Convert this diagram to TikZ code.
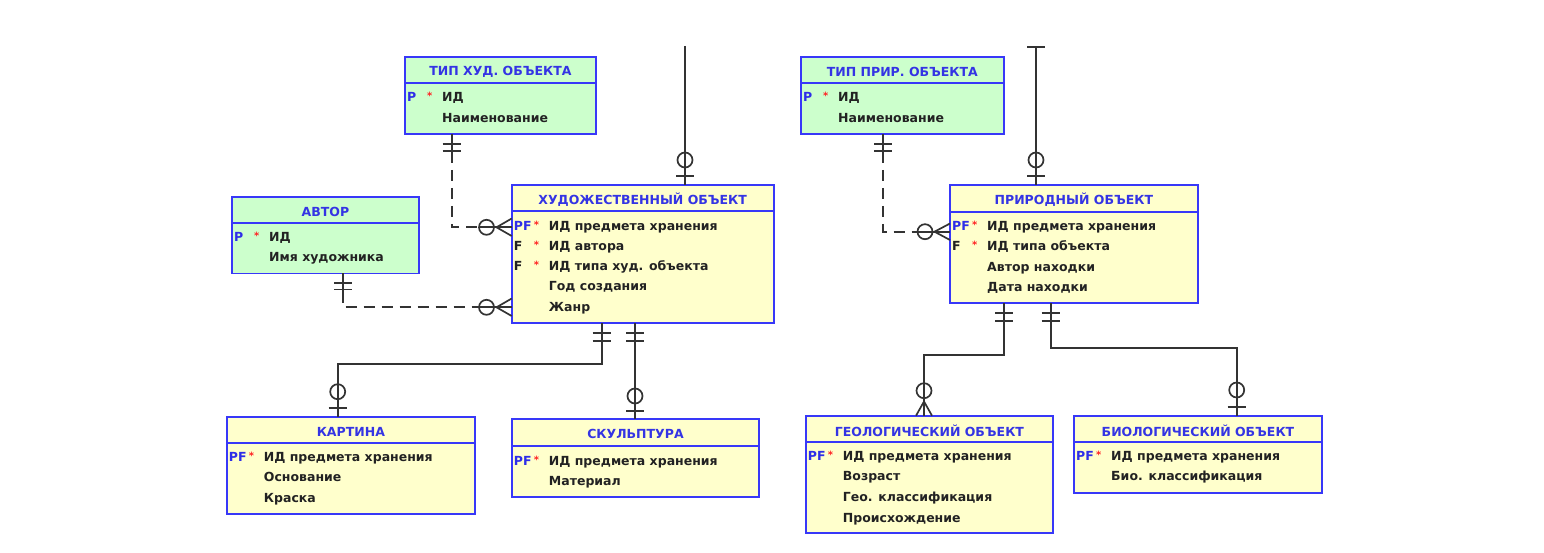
\documentclass[tikz,border=0pt]{standalone}
\usepackage{fontspec}
\newfontfamily\ermfont{DejaVu Sans}
\newcommand\ermtext{\ermfont\bfseries\fontsize{12.5}{14}\selectfont}
\usetikzlibrary{calc}
\definecolor{entblue}{HTML}{3838F8}
\definecolor{ttlblue}{HTML}{3434E4}
\definecolor{keyblue}{HTML}{2E2EE8}
\definecolor{entgreen}{HTML}{CCFFCC}
\definecolor{entyellow}{HTML}{FFFFCC}
\definecolor{connc}{HTML}{333333}
\definecolor{txtc}{HTML}{222222}
\definecolor{starred}{HTML}{FF2222}
\tikzset{
  entbox/.style={draw=entblue, line width=1.9pt, inner sep=0pt, outer sep=0pt},
  entline/.style={draw=entblue, line width=1.9pt},
  ttl/.style={text=ttlblue, font=\ermtext, inner sep=0pt},
  keytxt/.style={anchor=mid west, inner sep=0pt, font=\ermtext, text=txtc},
  startxt/.style={anchor=mid west, inner sep=0pt, text=starred, font=\ermfont\bfseries\fontsize{10}{10}\selectfont},
  attrtxt/.style={anchor=mid west, inner sep=0pt, font=\ermtext, text=txtc},
  conn/.style={draw=connc, line width=1.7pt},
  dsh/.style={dash pattern=on 11pt off 7pt},
}
\newcommand\entity[8]{%
  \node[entbox, fill=#7, minimum width={#4-#2}, minimum height={#5-#3}, anchor=north west] (#1) at (#2,#3) {};
  \draw[entline] (#2,#6) -- (#4,#6);
  \node[ttl] (#1-t) at ({(#2+#4)/2},{(#3+#6)/2+1.5}) {#8};
}
\newcommand\keyrow[5]{%
  \node[keytxt] (#1-k) at ({#2+2},{#3+1.5}) {#4};
  \node[startxt] (#1-s) at ({#2+22},{#3-0.5}) {*};
  \node[attrtxt] (#1-a) at ({#2+37},{#3+1.5}) {#5};
}
\newcommand\plainrow[4]{%
  \node[attrtxt] (#1-a) at ({#2+37},{#3+1.5}) {#4};
}
\newcommand\vbar[2]{\draw[conn] ({#1-9},#2) -- ({#1+9},#2);}
\newcommand\ocirc[2]{\draw[conn] (#1,#2) circle[radius=7.5pt];}
\begin{document}
\begin{tikzpicture}[x=1pt,y=-1pt]
\path[use as bounding box] (0,0) rectangle (1544,553);

% ---------- entities ----------
\entity{tiphud}{405}{57}{596}{134}{83}{entgreen}{ТИП ХУД. ОБЪЕКТА}
\keyrow{th1}{405}{98}{\textcolor{keyblue}{P}}{ИД}
\plainrow{th2}{405}{118.5}{Наименование}

\entity{avtor}{232}{197}{419}{273.5}{223}{entgreen}{АВТОР}
\keyrow{av1}{232}{237.5}{\textcolor{keyblue}{P}}{ИД}
\plainrow{av2}{232}{258}{Имя художника}

\entity{hud}{511.7}{185}{773.7}{323}{211}{entyellow}{ХУДОЖЕСТВЕННЫЙ ОБЪЕКТ}
\keyrow{hu1}{511.7}{226.5}{\textcolor{keyblue}{PF}}{ИД предмета хранения}
\keyrow{hu2}{511.7}{246.5}{F}{ИД автора}
\keyrow{hu3}{511.7}{267}{F}{ИД типа худ. объекта}
\plainrow{hu4}{511.7}{287}{Год создания}
\plainrow{hu5}{511.7}{307.5}{Жанр}

\entity{kart}{226.7}{417}{475}{514}{443}{entyellow}{КАРТИНА}
\keyrow{ka1}{226.7}{458}{\textcolor{keyblue}{PF}}{ИД предмета хранения}
\plainrow{ka2}{226.7}{478}{Основание}
\plainrow{ka3}{226.7}{498.5}{Краска}

\entity{skul}{511.7}{419.3}{759.3}{496.7}{446.3}{entyellow}{СКУЛЬПТУРА}
\keyrow{sk1}{511.7}{461.7}{\textcolor{keyblue}{PF}}{ИД предмета хранения}
\plainrow{sk2}{511.7}{482}{Материал}

\entity{tipprir}{801}{57}{1003.7}{134}{83}{entgreen}{ТИП ПРИР. ОБЪЕКТА}
\keyrow{tp1}{801}{98.3}{\textcolor{keyblue}{P}}{ИД}
\plainrow{tp2}{801}{119}{Наименование}

\entity{prir}{950}{185}{1197.7}{303.3}{211.7}{entyellow}{ПРИРОДНЫЙ ОБЪЕКТ}
\keyrow{pr1}{950}{226.7}{\textcolor{keyblue}{PF}}{ИД предмета хранения}
\keyrow{pr2}{950}{247.3}{F}{ИД типа объекта}
\plainrow{pr3}{950}{268}{Автор находки}
\plainrow{pr4}{950}{288.3}{Дата находки}

\entity{geo}{805.7}{415.7}{1053.3}{533.3}{442.3}{entyellow}{ГЕОЛОГИЧЕСКИЙ ОБЪЕКТ}
\keyrow{ge1}{805.7}{456.7}{\textcolor{keyblue}{PF}}{ИД предмета хранения}
\plainrow{ge2}{805.7}{477.3}{Возраст}
\plainrow{ge3}{805.7}{498.3}{Гео. классификация}
\plainrow{ge4}{805.7}{518.7}{Происхождение}

\entity{bio}{1074}{415.7}{1322}{492.7}{442.3}{entyellow}{БИОЛОГИЧЕСКИЙ ОБЪЕКТ}
\keyrow{bi1}{1074}{456.7}{\textcolor{keyblue}{PF}}{ИД предмета хранения}
\plainrow{bi2}{1074}{477}{Био. классификация}

% ---------- free ends ----------
\coordinate (hudtop) at (685,46);
\coordinate (prirtop) at (1036,47);

% ---------- connectors ----------
% top line into ХУД. ОБЪЕКТ
\draw[conn] (hudtop) -- (685,0 |- hud.north);
\ocirc{685}{160}
\vbar{685}{176}

% top line into ПРИРОДНЫЙ ОБЪЕКТ
\draw[conn] (prirtop) -- (1036,0 |- prir.north);
\vbar{1036}{47}
\ocirc{1036}{160}
\vbar{1036}{176}

% ТИП ХУД. ОБЪЕКТА -> ХУД. ОБЪЕКТ (dashed)
\draw[conn,dsh] (451.7,0 |- tiphud.south) -- (451.7,227.3) -- (hud.west |- 0,227.3);
\draw[conn] (451.7,0 |- tiphud.south) -- (451.7,152);
\vbar{451.7}{144}
\vbar{451.7}{151}
\draw[conn] (479,227.3) -- (hud.west |- 0,227.3);
\ocirc{486.5}{227.3}
\draw[conn] (496.5,227.3) -- (hud.west |- 0,218.5);
\draw[conn] (496.5,227.3) -- (hud.west |- 0,236);

% АВТОР -> ХУД. ОБЪЕКТ (dashed)
\draw[conn,dsh] (343.3,0 |- avtor.south) -- (343.3,307.3) -- (hud.west |- 0,307.3);
\draw[conn] (343.3,0 |- avtor.south) -- (343.3,292);
\vbar{343.3}{283.3}
\vbar{343.3}{289.5}
\draw[conn] (479,307.3) -- (hud.west |- 0,307.3);
\ocirc{486.5}{307.3}
\draw[conn] (496.5,307.3) -- (hud.west |- 0,298.5);
\draw[conn] (496.5,307.3) -- (hud.west |- 0,316);

% ХУД. ОБЪЕКТ -> КАРТИНА
\draw[conn] (601.7,0 |- hud.south) -- (601.7,364) -- (337.7,364) -- (337.7,0 |- kart.north);
\vbar{601.7}{333}
\vbar{601.7}{340.7}
\ocirc{337.7}{391.7}
\vbar{337.7}{408.3}

% ХУД. ОБЪЕКТ -> СКУЛЬПТУРА
\draw[conn] (635,0 |- hud.south) -- (635,0 |- skul.north);
\vbar{635}{333}
\vbar{635}{340.7}
\ocirc{635}{396}
\vbar{635}{410.7}

% ТИП ПРИР. ОБЪЕКТА -> ПРИРОДНЫЙ ОБЪЕКТ (dashed)
\draw[conn,dsh] (883.3,0 |- tipprir.south) -- (883.3,231.7) -- (prir.west |- 0,231.7);
\draw[conn] (883.3,0 |- tipprir.south) -- (883.3,152);
\vbar{883.3}{144}
\vbar{883.3}{151}
\draw[conn] (917,231.7) -- (prir.west |- 0,231.7);
\ocirc{925}{231.7}
\draw[conn] (934.5,231.7) -- (prir.west |- 0,223.5);
\draw[conn] (934.5,231.7) -- (prir.west |- 0,240);

% ПРИРОДНЫЙ ОБЪЕКТ -> ГЕОЛОГИЧЕСКИЙ ОБЪЕКТ
\draw[conn] (1004,0 |- prir.south) -- (1004,355.3) -- (924,355.3) -- (924,0 |- geo.north);
\vbar{1004}{313.3}
\vbar{1004}{320.7}
\ocirc{924}{390.7}
\draw[conn] (924,401.5) -- (916,0 |- geo.north);
\draw[conn] (924,401.5) -- (932,0 |- geo.north);

% ПРИРОДНЫЙ ОБЪЕКТ -> БИОЛОГИЧЕСКИЙ ОБЪЕКТ
\draw[conn] (1050.7,0 |- prir.south) -- (1050.7,347.7) -- (1236.7,347.7) -- (1236.7,0 |- bio.north);
\vbar{1050.7}{313.3}
\vbar{1050.7}{320.7}
\ocirc{1236.7}{390}
\vbar{1236.7}{407.3}
\end{tikzpicture}
\end{document}
